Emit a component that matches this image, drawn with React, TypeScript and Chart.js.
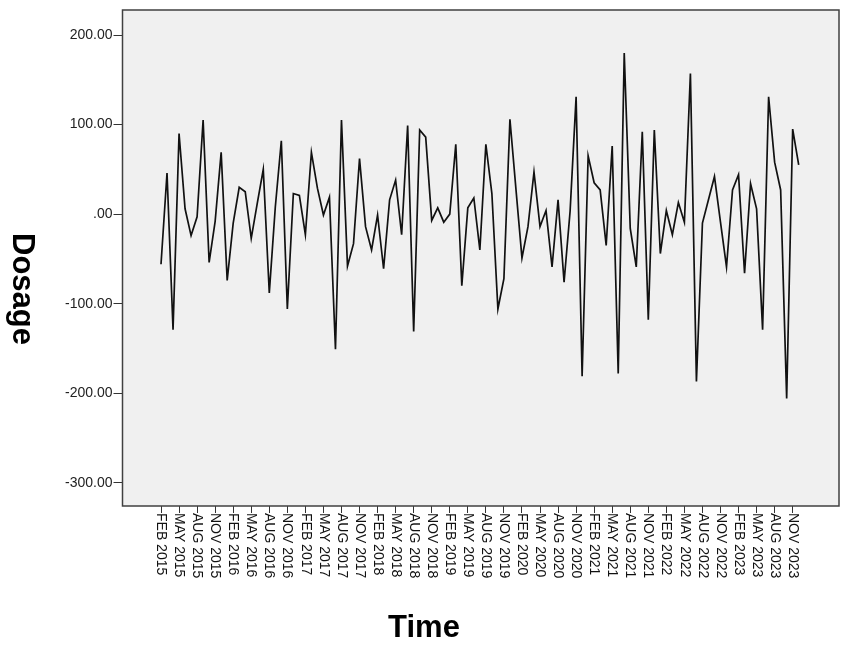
import React, { useEffect, useRef } from 'react';
import { Chart, registerables } from 'chart.js';

Chart.register(...registerables);

// Tick labels on the time axis (one every 3 months, first at index 0 = FEB 2015)
const tickLabels = [
  'FEB 2015', 'MAY 2015', 'AUG 2015', 'NOV 2015',
  'FEB 2016', 'MAY 2016', 'AUG 2016', 'NOV 2016',
  'FEB 2017', 'MAY 2017', 'AUG 2017', 'NOV 2017',
  'FEB 2018', 'MAY 2018', 'AUG 2018', 'NOV 2018',
  'FEB 2019', 'MAY 2019', 'AUG 2019', 'NOV 2019',
  'FEB 2020', 'MAY 2020', 'AUG 2020', 'NOV 2020',
  'FEB 2021', 'MAY 2021', 'AUG 2021', 'NOV 2021',
  'FEB 2022', 'MAY 2022', 'AUG 2022', 'NOV 2022',
  'FEB 2023', 'MAY 2023', 'AUG 2023', 'NOV 2023',
];
const tickStep = 3; // months between labelled ticks

// Monthly dosage values, FEB 2015 .. DEC 2023
const dosage = [
  -56, 46, -129, 90, 6, -24, -3, 105, -54, -8,
  69, -74, -10, 30, 25, -27, 12, 50, -88, 8,
  82, -106, 23, 21, -23, 69, 29, -1, 19, -151,
  105, -58, -33, 62, -14, -40, -1, -61, 16, 38,
  -23, 99, -131, 94, 86, -7, 7, -9, 0, 78,
  -80, 7, 18, -40, 78, 23, -106, -72, 106, 28,
  -49, -14, 47, -14, 4, -59, 16, -76, 3, 131,
  -181, 65, 35, 27, -35, 76, -178, 180, -16, -59,
  92, -118, 94, -44, 4, -23, 13, -9, 157, -187,
  -10, 16, 42, -9, -59, 27, 44, -66, 34, 6,
  -129, 131, 58, 27, -206, 95, 55,
];

const yTicks = [-300, -200, -100, 0, 100, 200];
const xTitle = 'Time';
const yTitle = 'Dosage';

const FONT = '"Liberation Sans", Arial, Helvetica, sans-serif';

export default function App() {
  const ref = useRef<HTMLCanvasElement>(null);

  useEffect(() => {
    document.body.style.margin = '0';
    const canvas = ref.current!;

    const frame = {
      id: 'frame',
      beforeDraw(chart: any) {
        const { ctx, chartArea: a } = chart;
        ctx.save();
        ctx.fillStyle = '#ffffff';
        ctx.fillRect(0, 0, chart.width, chart.height);
        ctx.fillStyle = '#f0f0f0';
        ctx.fillRect(a.left, a.top, a.right - a.left, a.bottom - a.top);
        ctx.restore();
      },
      afterDraw(chart: any) {
        const { ctx, chartArea: a } = chart;
        ctx.save();
        ctx.strokeStyle = '#404040';
        ctx.lineWidth = 1.5;
        ctx.strokeRect(a.left, a.top, a.right - a.left, a.bottom - a.top);

        // rotated x tick labels (reading top to bottom)
        const xs = chart.scales.x;
        ctx.fillStyle = '#111';
        ctx.font = `14px ${FONT}`;
        ctx.textAlign = 'left';
        ctx.textBaseline = 'middle';
        tickLabels.forEach((lab, k) => {
          const px = xs.getPixelForValue(k * tickStep);
          ctx.save();
          ctx.translate(px, a.bottom + 7);
          ctx.rotate(Math.PI / 2);
          ctx.fillText(lab, 0, 0);
          ctx.restore();
        });

        // axis titles
        ctx.font = `bold 31px ${FONT}`;
        ctx.textAlign = 'center';
        ctx.textBaseline = 'middle';
        ctx.fillStyle = '#000';
        ctx.fillText(xTitle, 424, 628);
        ctx.save();
        ctx.translate(22, 289);
        ctx.rotate(Math.PI / 2);
        ctx.fillText(yTitle, 0, 0);
        ctx.restore();
        ctx.restore();
      },
    };

    const chart = new Chart(canvas, {
      type: 'line',
      data: {
        datasets: [
          {
            data: dosage.map((v, i) => ({ x: i, y: v })),
            borderColor: '#111',
            borderWidth: 1.7,
            pointRadius: 0,
            tension: 0,
            fill: false,
          },
        ],
      },
      options: {
        responsive: false,
        animation: false,
        events: [],
        layout: { padding: { top: 10, right: 12, left: 0, bottom: 0 } },
        plugins: { legend: { display: false }, tooltip: { enabled: false } },
        scales: {
          x: {
            type: 'linear',
            min: -6.4,
            max: 112.7,
            border: { display: false },
            grid: {
              drawOnChartArea: false,
              drawTicks: true,
              tickLength: 7,
              color: '#333',
              lineWidth: 1,
            },
            ticks: { display: false },
            afterBuildTicks: (scale: any) => {
              scale.ticks = tickLabels.map((_, k) => ({ value: k * tickStep }));
            },
            afterFit: (scale: any) => {
              scale.height = 145;
            },
          },
          y: {
            type: 'linear',
            min: -326,
            max: 228,
            border: { display: false },
            grid: {
              drawOnChartArea: false,
              drawTicks: true,
              tickLength: 9,
              color: '#333',
              lineWidth: 1,
            },
            ticks: {
              color: '#222',
              padding: 1,
              font: { family: FONT, size: 14 },
              callback: (v: any) => (Number(v) === 0 ? '.00' : Number(v).toFixed(2)),
            },
            afterBuildTicks: (scale: any) => {
              scale.ticks = yTicks.map((v) => ({ value: v }));
            },
            afterFit: (scale: any) => {
              scale.width = 122.5;
            },
          },
        },
      },
      plugins: [frame],
    });

    return () => chart.destroy();
  }, []);

  return <canvas ref={ref} width={851} height={651} style={{ display: 'block' }} />;
}
